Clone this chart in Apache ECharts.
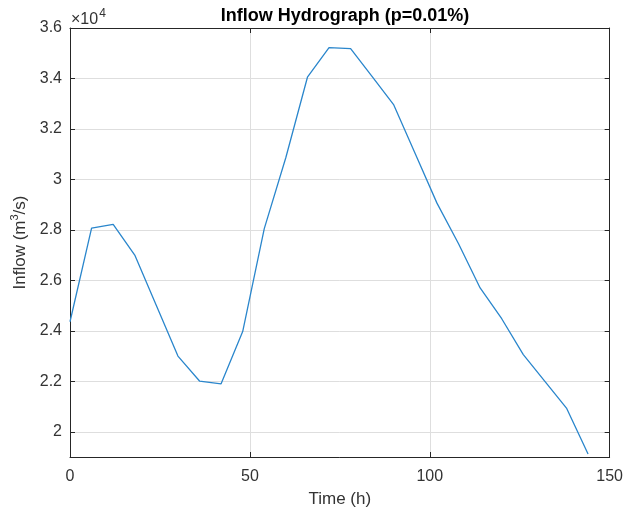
<!DOCTYPE html>
<html>
<head>
<meta charset="utf-8">
<script src="https://cdn.jsdelivr.net/npm/echarts@6/dist/echarts.min.js"></script>
<style>html,body{margin:0;padding:0;background:#fff;}#c{width:626px;height:515px;}</style>
</head>
<body>
<div id="c"></div>
<script>
const timeH = [0, 6, 12, 18, 24, 30, 36, 42, 48, 54, 60, 66, 72, 78, 84, 90, 96, 102, 108, 114, 120, 126, 132, 138, 144];
const inflow = [24360, 28070, 28220, 27000, 25000, 23000, 22010, 21900, 23970, 28050, 30870, 34050, 35220, 35180, 34070, 32950, 31010, 29060, 27450, 25700, 24480, 23060, 22000, 20940, 19120];
const yTicks = [20000, 22000, 24000, 26000, 28000, 30000, 32000, 34000, 36000];
const xTicks = [0, 50, 100, 150];

const txt = '#333333';
const font = 'Liberation Sans, Arial, Helvetica, sans-serif';
const chart = echarts.init(document.getElementById('c'), null, {renderer: 'canvas'});
const axisLineStyle = {color: '#262626', width: 1};
const gridColor = '#dedede';
chart.setOption({
  animation: false,
  backgroundColor: '#fff',
  title: {
    text: 'Inflow Hydrograph (p=0.01%)',
    left: 340, top: 2, textAlign: 'center',
    textStyle: {fontFamily: font, fontSize: 18, fontWeight: 'bold', color: '#000'}
  },
  graphic: [{
    type: 'text', left: 71, top: 8,
    style: {
      text: '{a|×10}{b|4}',
      rich: {
        a: {fontFamily: font, fontSize: 16, fill: txt, verticalAlign: 'bottom'},
        b: {fontFamily: font, fontSize: 12, fill: txt, verticalAlign: 'top', padding: [0, 0, 8, 1]}
      }
    }
  }],
  grid: {left: 70, right: 15, top: 28, bottom: 58, containLabel: false},
  xAxis: [{
    type: 'value', min: 0, max: 150, interval: 50,
    name: 'Time (h)', nameLocation: 'middle', nameGap: 34,
    nameTextStyle: {fontFamily: font, fontSize: 17, color: txt},
    axisLine: {show: true, onZero: false, lineStyle: axisLineStyle},
    axisTick: {show: true, inside: true, length: 5, lineStyle: axisLineStyle},
    axisLabel: {fontFamily: font, fontSize: 16, color: txt, margin: 12},
    splitLine: {show: true, lineStyle: {color: gridColor, width: 1}}
  }, {
    type: 'value', position: 'top', min: 0, max: 150, interval: 50,
    axisLine: {show: true, onZero: false, lineStyle: axisLineStyle},
    axisTick: {show: true, inside: true, length: 5, lineStyle: axisLineStyle},
    axisLabel: {show: false}, splitLine: {show: false}
  }],
  yAxis: [{
    type: 'value', min: 19000, max: 36000,
    name: '{a|Inflow (m}{b|3}{a|/s)}', nameLocation: 'middle', nameGap: 36,
    nameTextStyle: {fontFamily: font, fontSize: 17, color: txt,
      rich: {
        a: {fontFamily: font, fontSize: 17, color: txt},
        b: {fontFamily: font, fontSize: 11, color: txt, verticalAlign: 'top', padding: [0, 0, 10, 0]}
      }},
    axisLine: {show: true, onZero: false, lineStyle: axisLineStyle},
    axisTick: {show: true, inside: true, length: 5, lineStyle: axisLineStyle, customValues: yTicks},
    axisLabel: {fontFamily: font, fontSize: 16, color: txt, margin: 8, customValues: yTicks,
      formatter: v => String(Math.round(v / 1000) / 10)},
    splitLine: {show: true, lineStyle: {color: gridColor, width: 1}}
  }, {
    type: 'value', position: 'right', min: 19000, max: 36000,
    axisLine: {show: true, onZero: false, lineStyle: axisLineStyle},
    axisTick: {show: true, inside: true, length: 5, lineStyle: axisLineStyle, customValues: yTicks},
    axisLabel: {show: false, customValues: yTicks}, splitLine: {show: false}
  }],
  series: [{
    type: 'line',
    data: timeH.map((t, i) => [t, inflow[i]]),
    showSymbol: false, symbol: 'none',
    lineStyle: {color: '#2a86cc', width: 1.3},
    itemStyle: {color: '#2a86cc'}
  }]
});
</script>
</body>
</html>
